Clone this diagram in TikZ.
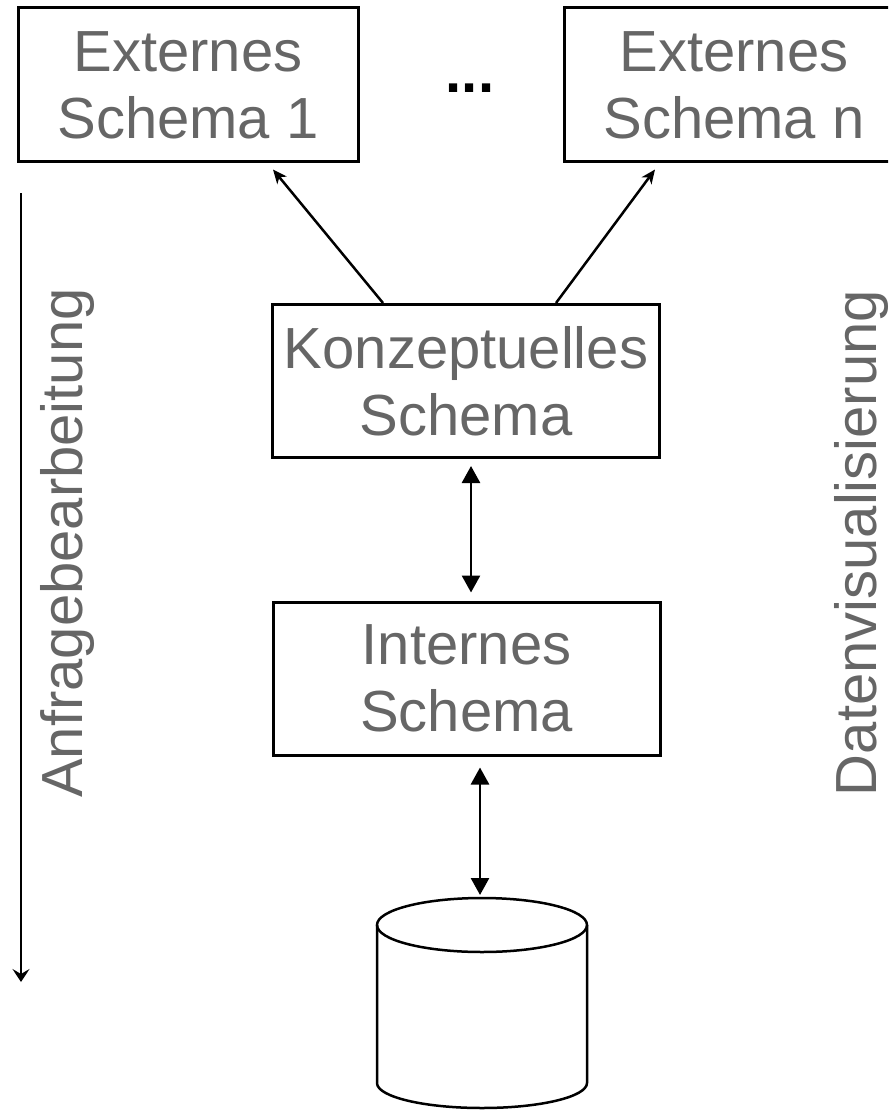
\documentclass[tikz,border=0pt]{standalone}
\usepackage{fontspec}
\setmainfont{Liberation Sans}
\usetikzlibrary{arrows.meta,calc}
\definecolor{txt}{HTML}{666666}
\begin{document}
\begin{tikzpicture}[x=1pt,y=-1pt,
  box/.style={draw, line width=3pt, minimum width=387pt, minimum height=153pt, inner sep=0pt, align=center, text=txt, font=\fontsize{58}{67}\selectfont},
  extbox/.style={box, minimum width=340pt, minimum height=154pt},
  lbl/.style={text=txt, font=\fontsize{58}{67}\selectfont, rotate=90, inner sep=0pt, anchor=base},
  link/.style={line width=2.7pt, {Triangle[length=17pt,width=18pt]}-{Triangle[length=17pt,width=18pt]}},
  uparrow/.style={line width=2.5pt, -{Stealth[length=14pt,width=12pt,inset=4pt]}},
  flow/.style={line width=2.7pt, -{Stealth[length=13pt,width=17pt,inset=5pt]}},
  cyl/.style={line width=2.5pt}
]
\path[use as bounding box] (0,0) rectangle (888,1110);
\clip (0,0) rectangle (888,1110);

\node[extbox] (e1) at (188,85) {Externes\\Schema 1};
\node[extbox] (en) at (734,85) {Externes\\Schema n};
\node[font=\fontsize{58}{67}\selectfont\bfseries, anchor=base, inner sep=0pt] (dots) at (470,93) {...};

\node[box] (k) at (466,381) {Konzeptuelles\\Schema};
\node[box] (i) at (466.5,678.5) {Internes\\Schema};

% database cylinder
\coordinate (db) at (482,899);
\draw[cyl] (482,925) ellipse [x radius=105pt, y radius=27pt];
\draw[cyl] (377,925) -- (377,1083) arc[start angle=180, end angle=360, x radius=105pt, y radius=25pt] -- (587,925);

% connectors
\draw[uparrow] ([xshift=-83pt]k.north) -- ([xshift=85pt,yshift=-6pt]e1.south);
\draw[uparrow] ([xshift=90pt]k.north) -- ([xshift=-79pt,yshift=-6pt]en.south);
\draw[link] ([xshift=5pt,yshift=-7pt]k.south) -- ([xshift=4.5pt,yshift=8pt]i.north);
\draw[link] ([xshift=13.5pt,yshift=-11pt]i.south) -- ([xshift=-2pt,yshift=4pt]db);

% side labels
\coordinate (fs) at (21,193);
\coordinate (fe) at (21,982);
\draw[flow] (fs) -- (fe);
\node[lbl] (anf) at (82,543) {Anfragebearbeitung};
\node[lbl] (dat) at (876,543) {Datenvisualisierung};
\end{tikzpicture}
\end{document}
